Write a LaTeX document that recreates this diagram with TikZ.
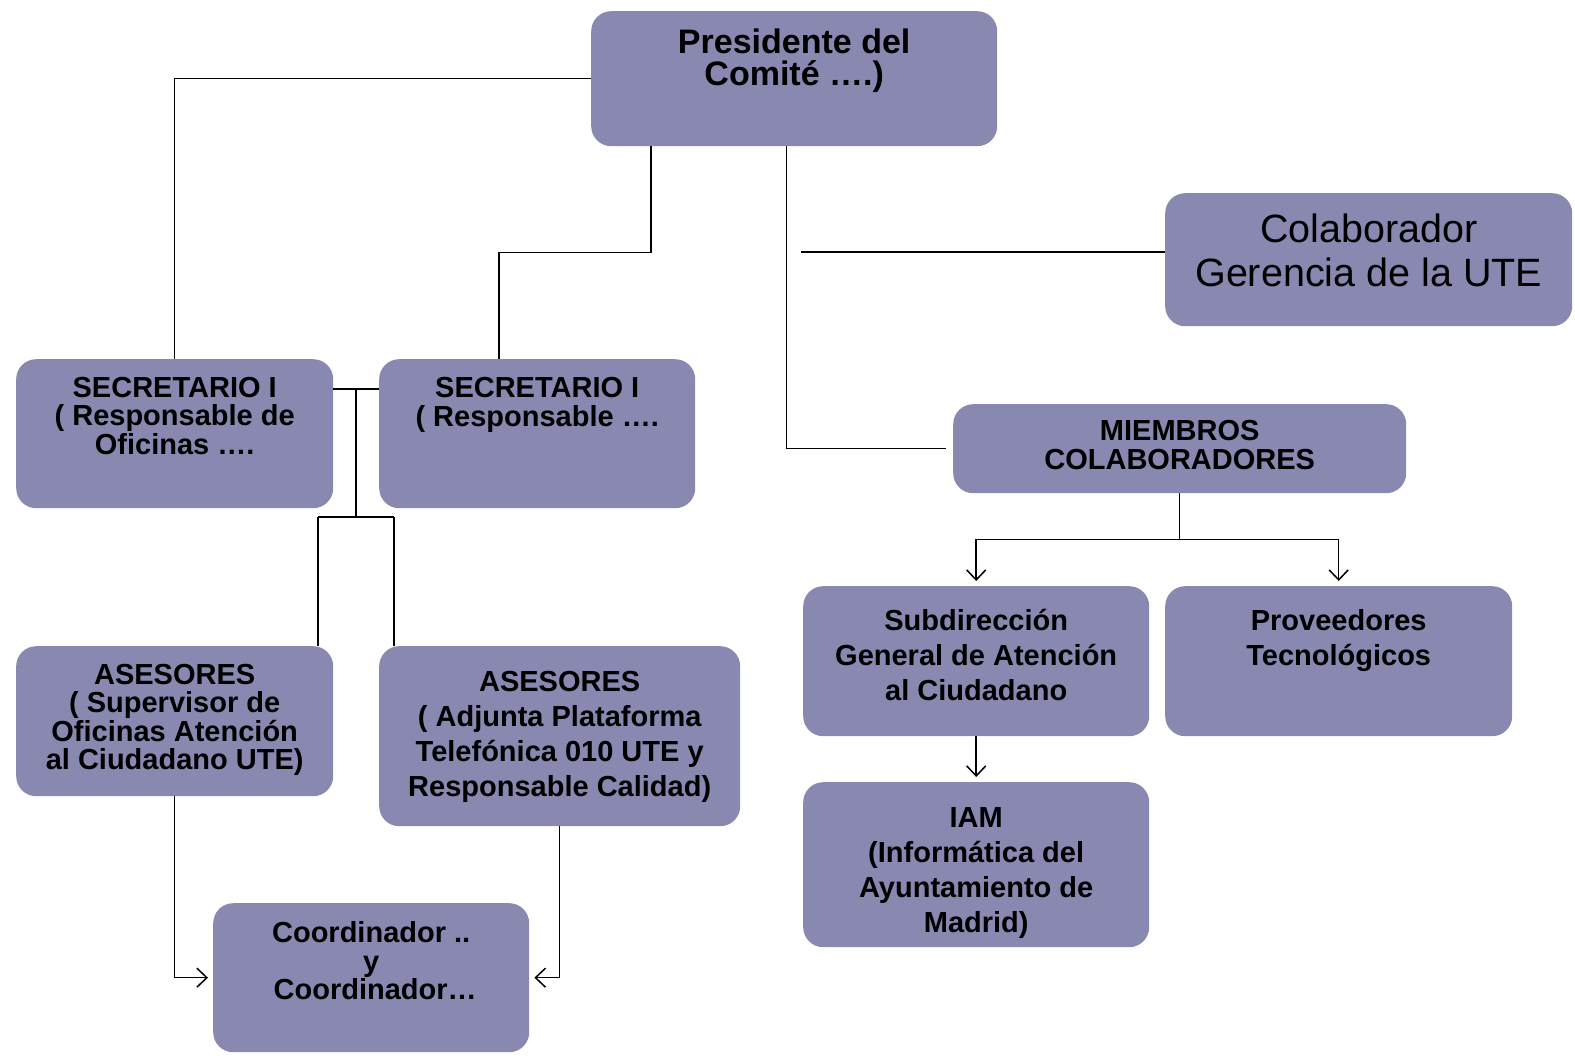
\documentclass[tikz,border=0pt]{standalone}
\usepackage{fontspec}
\setmainfont{Liberation Sans}
\usepackage{tikz}
\usetikzlibrary{arrows.meta, calc, positioning}
\definecolor{orgfill}{RGB}{136,136,177}
\AtBeginDocument{\lineskiplimit=-50pt\relax}

\begin{document}
\begin{tikzpicture}[x=1pt, y=-1pt,
    orgbox/.style 2 args={fill=orgfill, rounded corners=20pt, inner sep=0pt, anchor=north west, minimum width=#1, minimum height=#2},
    lbl/.style={align=center, inner sep=0pt, font=\bfseries\fontsize{29}{28.5}\selectfont},
    lblwide/.style={lbl, font=\bfseries\fontsize{29}{35}\selectfont},
    wire/.style={line width=1.5pt},
    arr/.style={wire, -{Straight Barb[length=10pt, width=19pt]}}]
    \useasboundingbox (0,0) rectangle (1575,1059);

    % Boxes
    \node[orgbox={406pt}{135pt}] (pres) at (591,11) {};
    \node[orgbox={407pt}{133pt}] (colab) at (1165,193) {};
    \node[orgbox={317pt}{149pt}] (secL) at (16,359) {};
    \node[orgbox={316pt}{149pt}] (secR) at (379,359) {};
    \node[orgbox={453pt}{89pt}] (miem) at (953,404) {};
    \node[orgbox={317pt}{150pt}] (asesL) at (16,646) {};
    \node[orgbox={361pt}{180pt}] (asesR) at (379,646) {};
    \node[orgbox={346pt}{150pt}] (subdir) at (803,586) {};
    \node[orgbox={347pt}{150pt}] (prov) at (1165,586) {};
    \node[orgbox={346pt}{165pt}] (iam) at (803,782) {};
    \node[orgbox={316pt}{149pt}] (coord) at (213,903) {};

    % Texts
    \node[lbl, font=\bfseries\fontsize{34}{32}\selectfont] (presT) at ($(pres.north)+(0,50)$) {Presidente del\\Comité ….)};
    \node[lbl, font=\fontsize{39.5}{44}\selectfont] (colabT) at ($(colab.north)+(0,57)$) {Colaborador\\Gerencia de la UTE};
    \node[lbl] (secLT) at ($(secL.north)+(0,57)$) {SECRETARIO I\\( Responsable de\\Oficinas ….};
    \node[lbl] (secRT) at ($(secR.north)+(0,46)$) {SECRETARIO I\\( Responsable ….};
    \node[lbl] (miemT) at ($(miem.north)+(0,41)$) {MIEMBROS\\COLABORADORES};
    \node[lbl] (asesLT) at ($(asesL.north)+(0,74)$) {ASESORES\\( Supervisor de\\Oficinas Atención\\al Ciudadano UTE)};
    \node[lblwide] (asesRT) at ($(asesR.north)+(0,91)$) {ASESORES\\( Adjunta Plataforma\\Telefónica 010 UTE y\\Responsable Calidad)};
    \node[lblwide] (subdirT) at ($(subdir.north)+(0,69)$) {Subdirección\\General de Atención\\al Ciudadano};
    \node[lblwide] (provT) at ($(prov.north)+(0,55)$) {Proveedores\\Tecnológicos};
    \node[lblwide] (iamT) at ($(iam.north)+(0,91)$) {IAM\\(Informática del\\Ayuntamiento de\\Madrid)};
    \node[lbl] (coordT) at ($(coord.north)+(0,58)$) {Coordinador ..\\y\\\hspace*{8pt}Coordinador…};

    % President to secretaries
    \draw[wire] (pres.west) -| (secL.north);
    \draw[wire] ([xshift=60pt]pres.south west) -- ++(0,106) -| ([xshift=120pt]secR.north west);

    % President to collaborators
    \draw[wire] ([xshift=-211pt]pres.south east) |- ([xshift=-7pt]miem.west);
    \coordinate (colabin) at (801,252);
    \draw[wire] (colabin) -- (colabin -| colab.west);

    % Secretaries to advisers
    \coordinate (secmid) at ($($(secL.north east)!0.5!(secR.north west)$)+(0,30)$);
    \draw[wire] (secmid -| secL.east) -- (secmid -| secR.west);
    \draw[line width=2.2pt] (secmid) -- ++(0,128) coordinate (asesfork);
    \draw[wire] ($(asesfork)+(-38,0)$) coordinate (forkL) -- ($(asesfork)+(38,0)$) coordinate (forkR);
    \draw[wire] (forkL) -- (forkL |- asesL.north);
    \draw[wire] (forkR) -- (forkR |- asesR.north);

    % Advisers to coordinators
    \draw[arr] (asesL.south) |- ([xshift=-5pt]coord.west);
    \draw[arr] (asesR.south) |- ([xshift=5pt]coord.east);

    % Members
    \draw[wire] (miem.south) -- ++(0,46) coordinate (miemfork);
    \draw[arr] (miemfork) -| ([yshift=5pt]subdir.north);
    \draw[arr] (miemfork) -| ([yshift=5pt]prov.north);
    \draw[arr] (subdir.south) -- ([yshift=5pt]iam.north);

\end{tikzpicture}
\end{document}
